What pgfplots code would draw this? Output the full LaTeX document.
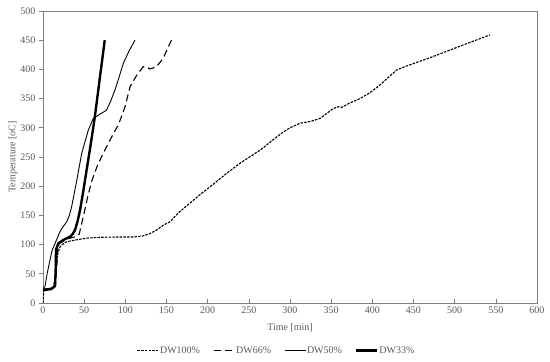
\documentclass[border=0pt]{standalone}
\usepackage{pgfplots}
\pgfplotsset{compat=1.18}
\usepackage{fontspec}
\setmainfont{Liberation Serif}
\definecolor{txtgray}{HTML}{595959}
\definecolor{axgray}{HTML}{7F7F7F}
\begin{document}
\begin{tikzpicture}
\begin{axis}[
  scale only axis,
  width=494pt, height=292pt,
  xmin=0, xmax=600, ymin=0, ymax=500,
  xtick={0,50,...,600}, ytick={0,50,...,500},
  axis line style={axgray, line width=0.8pt},
  x tick style={axgray, line width=0.6pt}, y tick style={axgray, line width=0.6pt},
  xtick align=inside, ytick align=outside,
  major tick length=4pt,
  xtick pos=bottom, ytick pos=left,
  tick label style={font=\fontsize{10}{12}\selectfont, text=txtgray},
  /pgf/number format/assume math mode=true,
  xlabel={Time [min]}, ylabel={Temperature [oC]},
  label style={font=\fontsize{10}{12}\selectfont, text=txtgray},
  xlabel style={yshift=-3pt},
  ylabel style={yshift=-4pt},
  legend columns=4,
  legend style={at={(axis description cs:0.472,-0.163)}, anchor=center, draw=none,
    font=\fontsize{10}{12}\selectfont, text=txtgray, inner xsep=0pt,
    /tikz/every even column/.append style={column sep=12pt},
    nodes={inner xsep=1pt}},
  legend cell align=left,
  legend image code/.code={\draw[#1, black] (0pt,0pt) -- (21pt,0pt);},
]
% DW100%
\addplot[black, line width=1.1pt, dash pattern=on 2.5pt off 1.2pt] coordinates {
(0,0) (1,22) (5,24) (12,26) (14.6,40) (16,62) (18,85) (20.6,96) (25,102) (29,105)
(40,108) (53,111) (69,112.5) (90,113) (110,113) (122,115) (130,119) (138,125) (146,133)
(154,139) (165,155) (178.5,171) (191,186) (203,199) (223,222) (240,240) (264,262)
(280,280) (290,291) (300,300) (312,307.7) (325,311) (336.5,316) (345,325) (352.6,333)
(358.7,336) (363,335) (372,342) (385,350) (397,360) (409,373) (420,387) (429.6,399)
(440,405) (450,410) (470,420) (494,433) (520,447) (543,459)
};
\addlegendentry{DW100\%}
% DW66%
\addplot[black, line width=1.1pt, dash pattern=on 7pt off 4pt] coordinates {
(0,24) (10,25) (15,28) (16.6,60) (18,92) (20,102) (25,106) (30,110) (38,113) (44,118)
(49,148) (54,180) (59,208) (66,235) (73,256) (80,275) (85.5,290) (91.5,305) (95,318)
(99.6,336) (105.7,370) (113.8,390) (121.8,404.7) (126,404) (130,400.7) (138,404.7)
(146,419) (151,435) (156,450)
};
\addlegendentry{DW66\%}
% DW50%
\addplot[black, line width=0.9pt] coordinates {
(0,25) (2.4,28) (5,50) (8.5,73.6) (11,90) (14.6,102) (17,110) (20.6,122) (24,130)
(28.8,139) (32,150) (34.8,165) (38,188) (41,210) (47,256) (55,296) (61,316) (70,324)
(77,330) (82,345) (87.5,365) (92,385) (97.5,410) (104,430) (111.7,450)
};
\addlegendentry{DW50\%}
% DW33%
\addplot[black, line width=2.4pt] coordinates {
(0,22) (5,23) (10,24) (13,27) (14.6,30) (15.5,60) (15.8,91) (18.6,102) (24.7,108)
(32.8,113.5) (36,118) (38.9,125) (42,140) (45,159) (49,192) (53,228) (58,272) (63,319)
(69,385) (75,450)
};
\addlegendentry{DW33\%}
\end{axis}
\pgfresetboundingbox
\path (-43pt,-59pt) rectangle (507pt,303pt);
\end{tikzpicture}
\end{document}
